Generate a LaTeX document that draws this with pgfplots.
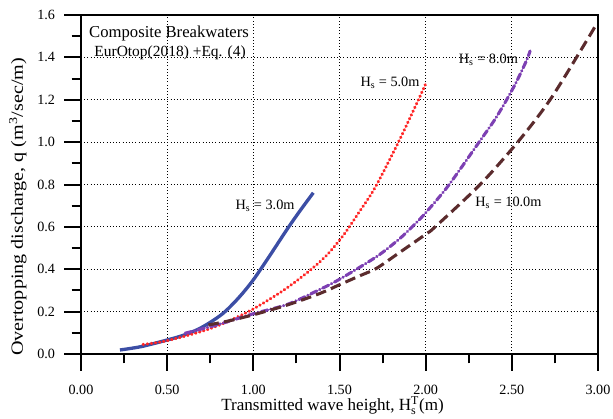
\documentclass[border=0pt]{standalone}
\usepackage{pgfplots}
\pgfplotsset{compat=1.18}
\usepackage{fontspec}
\setmainfont{Liberation Serif}
\setmathrm{Liberation Serif}
\newfontfamily\ylabfont{Liberation Serif}[FakeStretch=1.18]
\definecolor{cblue}{HTML}{3C4EA5}
\definecolor{cred}{HTML}{FF2626}
\definecolor{cpurple}{HTML}{7D40B3}
\definecolor{cbrown}{HTML}{5B2B2D}
\begin{document}
\begin{tikzpicture}
\path[use as bounding box] (-60.75pt,-48pt) rectangle (399pt,265.5pt);
\begin{axis}[
  at={(0pt,0pt)}, anchor=south west,
  scale only axis,
  width=387.75pt, height=254.25pt,
  xmin=0, xmax=3, ymin=0, ymax=1.6,
  xtick={0,0.5,...,3.0}, ytick={0,0.2,...,1.6},
  minor x tick num=1, minor y tick num=1,
  /pgf/number format/assume math mode=true,
  xticklabel style={/pgf/number format/fixed,/pgf/number format/fixed zerofill,/pgf/number format/precision=2,yshift=-7pt},
  yticklabel style={/pgf/number format/fixed,/pgf/number format/fixed zerofill,/pgf/number format/precision=1,xshift=-3.5pt},
  tick label style={font=\fontsize{10.6}{12}\selectfont},
  tick align=outside,
  major tick length=12.5pt, minor tick length=7pt,
  xtick pos=bottom, ytick pos=left,
  every tick/.style={black, line width=1.5pt},
  axis line style={line width=1.5pt},
  grid=major,
  major grid style={black, dotted, line width=0.8pt},
  xlabel={Transmitted wave height, $\mathrm{H}_{\mathrm{s}}^{\mathrm{T}}$(m)},
  ylabel={\ylabfont Overtopping discharge, q (m\textsuperscript{3}/sec/m)},
  xlabel style={font=\fontsize{12.8}{14}\selectfont, at={(axis description cs:0.4865,-0.153)}, anchor=center},
  ylabel style={font=\fontsize{12.8}{14}\selectfont, at={(axis description cs:-0.1219,0.434)}, anchor=center, rotate=0},
  clip=false,
]
\addplot[cblue, line width=2.5pt, smooth] coordinates {
(0.226,0.019)(0.35,0.035)(0.5,0.066)(0.6,0.09)(0.69,0.121)(0.77,0.16)(0.836,0.2)(0.92,0.27)(1.0,0.35)(1.1,0.47)(1.197,0.59)(1.27,0.675)(1.348,0.761)};
\addplot[cred, line width=2.3pt, smooth, line cap=round, dash pattern=on 0.4pt off 2.7pt] coordinates {
(0.36,0.045)(0.5,0.063)(0.75,0.12)(0.971,0.2)(1.174,0.30)(1.329,0.395)(1.43,0.47)(1.522,0.56)(1.61,0.665)(1.706,0.785)(1.842,1.0)(1.958,1.2)(2.0,1.275)};
\addplot[cpurple, line width=2.3pt, smooth, line cap=round, dash pattern=on 5pt off 2.3pt on 0.3pt off 2.3pt] coordinates {
(0.604,0.098)(0.8,0.14)(1.0,0.19)(1.2,0.235)(1.387,0.305)(1.503,0.354)(1.716,0.46)(1.85,0.545)(1.94,0.615)(2.006,0.672)(2.132,0.795)(2.31,1.0)(2.40,1.105)(2.47,1.20)(2.53,1.29)(2.585,1.385)(2.606,1.43)};
\addplot[cbrown, line width=2.3pt, smooth, dash pattern=on 8pt off 4pt] coordinates {
(0.739,0.137)(0.85,0.155)(1.0,0.185)(1.2,0.232)(1.387,0.286)(1.503,0.328)(1.62,0.37)(1.716,0.405)(1.85,0.48)(2.0,0.565)(2.055,0.6)(2.316,0.8)(2.534,1.0)(2.722,1.2)(2.935,1.48)(2.993,1.56)};
\node[font=\fontsize{10.7}{12}\selectfont] at (axis cs:1.068,0.698) {H\textsubscript{s} = 3.0m};
\node[font=\fontsize{10.7}{12}\selectfont] at (axis cs:1.793,1.28) {H\textsubscript{s} = 5.0m};
\node[font=\fontsize{10.7}{12}\selectfont] at (axis cs:2.364,1.387) {H\textsubscript{s} = 8.0m};
\node[font=\fontsize{10.7}{12}\selectfont] at (axis cs:2.48,0.714) {H\textsubscript{s} = 10.0m};
\node[font=\fontsize{12.5}{14}\selectfont] at (axis cs:0.511,1.515) {Composite Breakwaters};
\node[font=\fontsize{11.6}{13}\selectfont] at (axis cs:0.517,1.42) {EurOtop(2018) +Eq. (4)};
\end{axis}
\end{tikzpicture}
\end{document}
